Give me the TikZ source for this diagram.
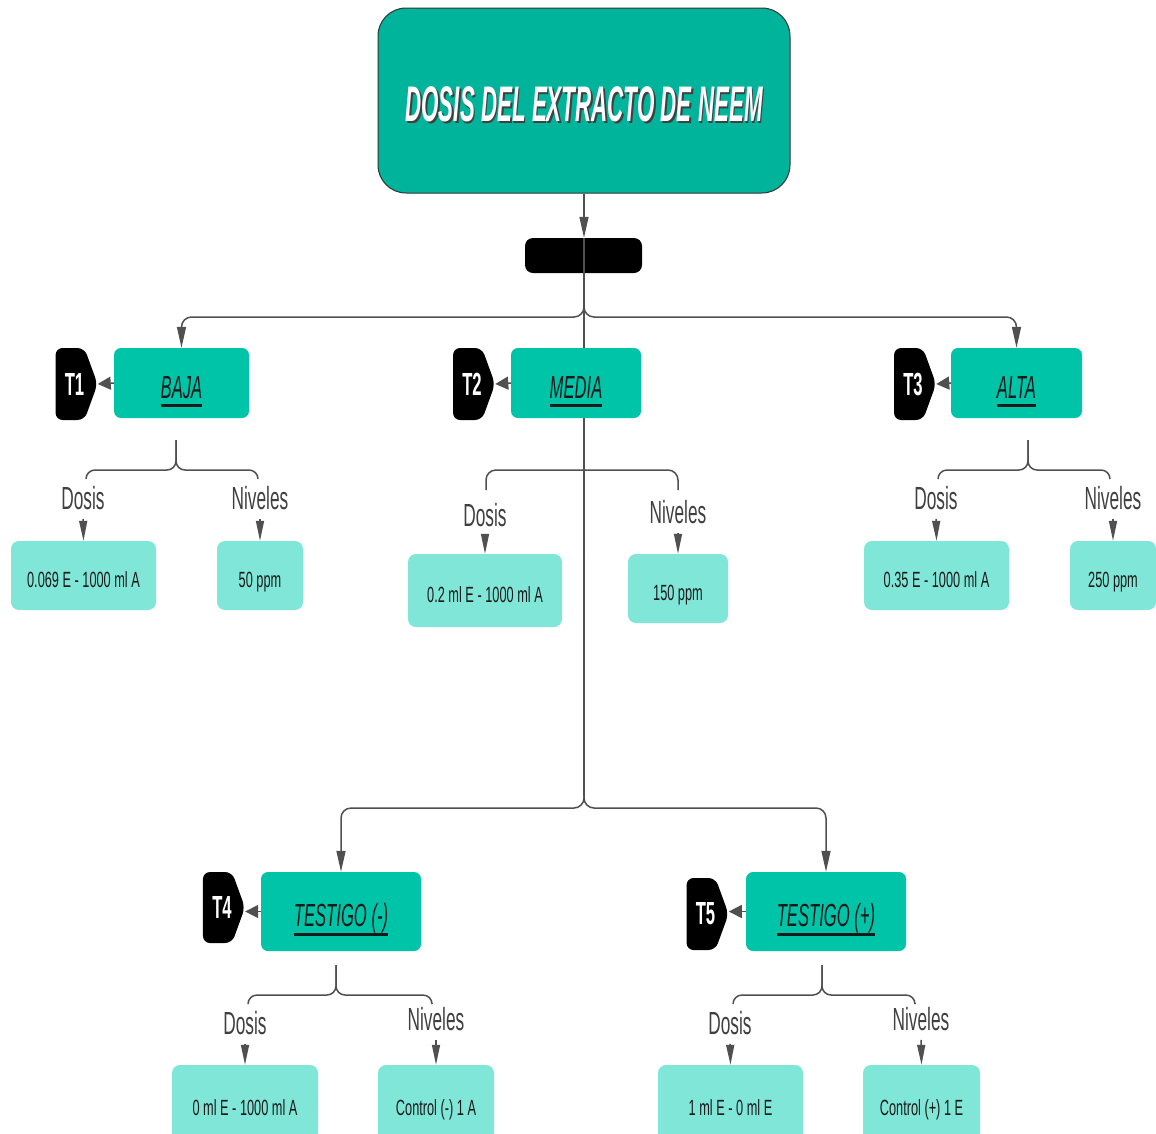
\documentclass[tikz,border=0pt]{standalone}
\usepackage{fontspec}
\setmainfont{Liberation Sans}
\newfontfamily\ttlf[FakeStretch=0.447]{Liberation Sans}
\newfontfamily\lblf[FakeStretch=0.54]{Liberation Sans}
\newfontfamily\bxf[FakeStretch=0.58]{Liberation Sans}
\newfontfamily\midf[FakeStretch=0.52]{Liberation Sans}
\newfontfamily\tfont[FakeStretch=0.52]{Liberation Sans}
\usetikzlibrary{arrows.meta,shapes.symbols,calc,backgrounds}
\definecolor{ttlcol}{HTML}{00B39B}
\definecolor{midcol}{HTML}{00C4A8}
\definecolor{lightcol}{HTML}{7FE6D8}
\definecolor{linecol}{HTML}{505050}
\definecolor{txtcol}{HTML}{1A1A1A}
\newcommand\ulx[1]{\raisebox{-15pt}[0pt][0pt]{\setbox0\hbox{#1}\rlap{\color{txtcol}\rule[-9pt]{\wd0}{3pt}}\box0}}
\newcommand\lowx[1]{\raisebox{-12pt}[0pt][0pt]{#1}}
\newcommand\tagx[1]{\hspace*{9pt}#1}
\newcommand\brc[6]{%
  \draw[conn,rounded corners=9] (#1,#2) -- (#1,#3) -- (#4,#3) -- (#4,#6);
  \draw[conn,rounded corners=9] (#1,#2) -- (#1,#3) -- (#5,#3) -- (#5,#6);}
\begin{document}
\begin{tikzpicture}[x=1pt,y=-1pt,
  conn/.style={draw=linecol,line width=1.5pt},
  arr/.style={conn,-{Triangle[length=21pt,width=9pt]}},
  sarr/.style={conn,-{Triangle[length=20pt,width=8pt]},shorten <=9pt},
  tarr/.style={conn,-{Triangle[length=13pt,width=13pt]}},
  titlebox/.style={draw=black!80,line width=1pt,fill=ttlcol,rounded corners=28pt,minimum width=412pt,minimum height=185pt,inner sep=0pt},
  midbox/.style={fill=midcol,rounded corners=7pt,inner sep=0pt,font=\midf\itshape\fontsize{32}{34}\selectfont,text=txtcol},
  lightbox/.style={fill=lightcol,rounded corners=8pt,inner sep=0pt,font=\bxf\fontsize{22}{24}\selectfont,text=txtcol},
  tag/.style={signal,signal to=east,signal pointer angle=140,fill=black,rounded corners=7pt,inner sep=0pt,minimum height=72pt,minimum width=42pt,text=white,font=\tfont\bfseries\fontsize{32}{34}\selectfont},
  lbl/.style={inner sep=0pt,font=\lblf\fontsize{32}{34}\selectfont,text=black!75},
]
\useasboundingbox (0,0) rectangle (1156,1133);
\begin{scope}[on background layer]
\fill[white] (0,0) rectangle (1156,1133);
\end{scope}

% title
\node[titlebox] (title) at (584,100.5) {};
\node[text=black!75,font=\ttlf\bfseries\itshape\fontsize{50}{52}\selectfont] (ttlsh) at (585.8,106.3) {DOSIS DEL EXTRACTO DE NEEM};
\node[text=white,font=\ttlf\bfseries\itshape\fontsize{50}{52}\selectfont] (ttltxt) at (584,104.5) {DOSIS DEL EXTRACTO DE NEEM};
\node[fill=black,rounded corners=8pt,minimum width=117pt,minimum height=35pt,inner sep=0pt] (blk) at (583.5,255.5) {};

% level 1
\node[midbox,minimum width=135pt,minimum height=70pt] (baja) at (181.5,383) {\ulx{BAJA}};
\node[midbox,minimum width=130pt,minimum height=70pt] (media) at (576,383) {\ulx{MEDIA}};
\node[midbox,minimum width=131pt,minimum height=70pt] (alta) at (1016.5,383) {\ulx{ALTA}};
\node[tag] (t1) at (70,384) {\tagx{T1}};
\node[tag] (t2) at (467.5,384) {\tagx{T2}};
\node[tag] (t3) at (908.5,384) {\tagx{T3}};

% level 2
\node[midbox,minimum width=160pt,minimum height=79pt] (testn) at (341,911.5) {\ulx{TESTIGO (-)}};
\node[midbox,minimum width=160pt,minimum height=79pt] (testp) at (826,911.5) {\ulx{TESTIGO (+)}};
\node[tag,minimum height=71pt,minimum width=42pt] (t4) at (217.5,907.5) {\tagx{T4}};
\node[tag,minimum height=72pt,minimum width=42pt] (t5) at (701,914) {\tagx{T5}};

% spine and connectors
\coordinate (sp1) at (584,302);
\coordinate (sp2) at (584,796);
\begin{scope}[on background layer]
\draw[conn] (584,348) -- (sp2);
\end{scope}
\draw[arr] (title.south -| 584,0) -- (blk.north -| 584,0);
\draw[conn] (blk.north -| 584,0) -- (sp1);
\draw[conn] (sp1) -- (584,348);
\draw[arr,rounded corners=10pt] (sp1) -- (584,317) -| (baja.north);
\draw[arr,rounded corners=10pt] (sp1) -- (584,317) -| (alta.north);
\draw[arr,rounded corners=10pt] (sp2) -- (584,808) -| (testn.north);
\draw[arr,rounded corners=10pt] (sp2) -- (584,808) -| (testp.north);
\draw[tarr] (baja.west) -- (t1.east);
\draw[tarr] (media.west) -- (t2.east);
\draw[tarr] (alta.west) -- (t3.east);
\draw[tarr] (testn.west) -- (t4.east |- testn.west);
\draw[tarr] (testp.west) -- (t5.east |- testp.west);

% braces
\brc{176}{440}{470}{86}{258}{479}
\draw[conn,rounded corners=10pt] (486,490) -- (486,470) -- (678,470) -- (678,490);
\brc{1028}{440}{470}{938}{1110}{479}
\brc{336}{965}{995}{248}{432}{1003}
\brc{822}{965}{995}{733}{915}{1003}

% labels and leaf boxes
\node[lbl] (ds1) at (83,498) {Dosis};
\node[lbl] (nv1) at (260,498) {Niveles};
\node[lightbox,minimum width=145pt,minimum height=69pt] (d1) at (83.5,575.5) {\lowx{0.069 E - 1000 ml A}};
\node[lightbox,minimum width=86pt,minimum height=69pt] (n1) at (260,575.5) {\lowx{50 ppm}};
\node[lbl] (ds2) at (485,515) {Dosis};
\node[lbl] (nv2) at (678,512) {Niveles};
\node[lightbox,minimum width=154pt,minimum height=73pt] (d2) at (485,590.5) {\lowx{0.2 ml E - 1000 ml A}};
\node[lightbox,minimum width=100pt,minimum height=69pt] (n2) at (678,588.5) {\lowx{150 ppm}};
\node[lbl] (ds3) at (936,498) {Dosis};
\node[lbl] (nv3) at (1113,498) {Niveles};
\node[lightbox,minimum width=145pt,minimum height=69pt] (d3) at (936.5,575.5) {\lowx{0.35 E - 1000 ml A}};
\node[lightbox,minimum width=86pt,minimum height=69pt] (n3) at (1113,575.5) {\lowx{250 ppm}};
\node[lbl] (ds4) at (245,1023) {Dosis};
\node[lbl] (nv4) at (436,1019) {Niveles};
\node[lightbox,minimum width=146pt,minimum height=76pt] (d4) at (245,1103) {\lowx{0 ml E - 1000 ml A}};
\node[lightbox,minimum width=116pt,minimum height=76pt] (n4) at (436,1103) {\lowx{Control (-) 1 A}};
\node[lbl] (ds5) at (730,1023) {Dosis};
\node[lbl] (nv5) at (921,1019) {Niveles};
\node[lightbox,minimum width=145pt,minimum height=76pt] (d5) at (730.5,1103) {\lowx{1 ml E - 0 ml E}};
\node[lightbox,minimum width=117pt,minimum height=76pt] (n5) at (921.5,1103) {\lowx{Control (+) 1 E}};

\foreach \a/\b in {ds1/d1,nv1/n1,ds2/d2,nv2/n2,ds3/d3,nv3/n3,ds4/d4,nv4/n4,ds5/d5,nv5/n5}
  \draw[sarr] (\a.south) -- (\b.north);
\end{tikzpicture}
\end{document}
